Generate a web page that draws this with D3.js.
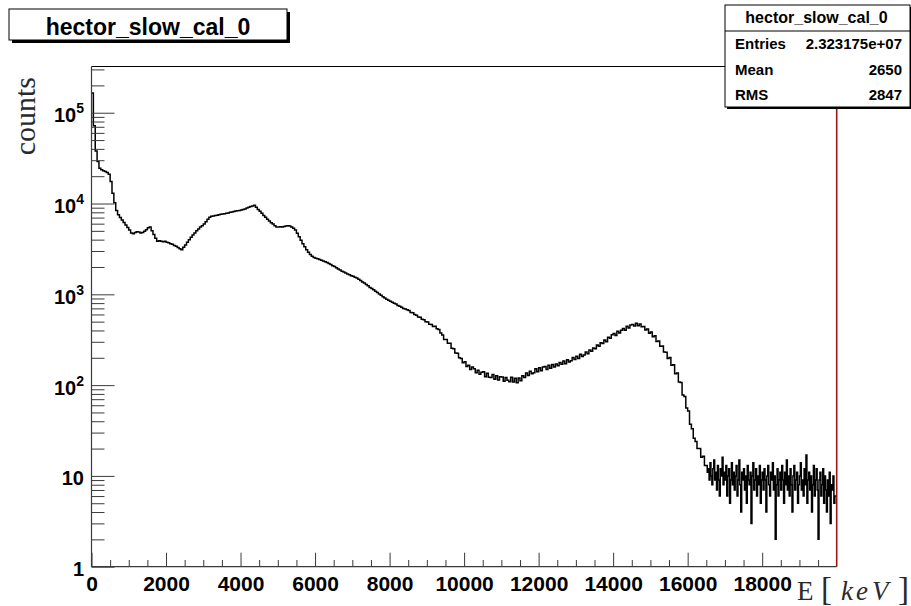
<!DOCTYPE html>
<html>
<head>
<meta charset="utf-8">
<script src="https://cdn.jsdelivr.net/npm/d3@7"></script>
<style>
  html, body { margin: 0; padding: 0; background: #fff; }
  svg { display: block; }
</style>
</head>
<body>
<svg id="chart" width="911" height="606"></svg>
<script>
// ---- data ----------------------------------------------------------------
const histName = "hector_slow_cal_0";
const eRange = [0, 20000];        // keV
const countRange = [1, 3.23e5];

// main spectrum: 50 keV bins from 0 to 16500 keV (10 bins per row = 500 keV)
const binWidth = 50;
const counts = [
  165000, 72000, 38000, 29000, 24500, 23500, 23000, 22500, 22000, 21000,
  17500, 13000, 10200, 8400, 7500, 7000, 6600, 6200, 5800, 5450,
  5100, 4750, 4650, 4800, 4900, 4850, 4750, 4800, 4950, 5150,
  5400, 5500, 5000, 4550, 4150, 3850, 3900, 3850, 3800, 3850,
  3750, 3700, 3600, 3550, 3450, 3380, 3280, 3180, 3100, 3300,
  3500, 3750, 3980, 4250, 4500, 4750, 5000, 5250, 5500, 5700,
  5950, 6300, 6700, 7050, 7250, 7300, 7400, 7450, 7500, 7600,
  7650, 7700, 7800, 7850, 8000, 8050, 8150, 8250, 8300, 8400,
  8500, 8600, 8700, 8900, 9100, 9250, 9400, 9550, 9100, 8600,
  8200, 7800, 7400, 7050, 6700, 6400, 6150, 5950, 5700, 5500,
  5500, 5550, 5500, 5600, 5650, 5700, 5650, 5500, 5350, 5100,
  4700, 4300, 3950, 3600, 3350, 3100, 2900, 2750, 2620, 2550,
  2500, 2460, 2420, 2380, 2330, 2280, 2240, 2180, 2130, 2060,
  2020, 1960, 1900, 1850, 1800, 1760, 1720, 1670, 1640, 1600,
  1580, 1540, 1510, 1470, 1420, 1370, 1330, 1280, 1240, 1190,
  1160, 1120, 1080, 1050, 1010, 975, 940, 910, 885, 860,
  840, 820, 795, 780, 755, 740, 720, 700, 690, 675,
  665, 632, 626, 598, 590, 562, 560, 532, 526, 498,
  496, 468, 466, 443, 446, 418, 410, 374, 356, 318,
  318, 289, 290, 254, 252, 226, 224, 200, 197, 176,
  181, 160, 166, 149, 158, 151, 137, 146, 132, 139,
  140, 124, 135, 122, 121, 131, 116, 127, 114, 124,
  123, 110, 121, 113, 109, 122, 108, 119, 106, 120,
  112, 127, 121, 136, 128, 142, 133, 137, 151, 140,
  155, 144, 158, 160, 149, 166, 153, 169, 158, 171,
  163, 177, 170, 184, 172, 190, 180, 186, 201, 191,
  208, 197, 219, 207, 214, 232, 222, 244, 236, 257,
  252, 276, 268, 293, 287, 313, 301, 337, 329, 358,
  371, 352, 392, 375, 401, 419, 402, 446, 425, 458,
  466, 447, 481, 452, 470, 438, 442, 405, 414, 372,
  384, 340, 350, 303, 306, 268, 270, 231, 230, 197,
  202, 166, 168, 133, 136, 108, 107, 78, 75, 56,
  52, 37, 33, 26, 24, 20, 20, 16, 16.5, 13
];

// high-energy tail: 25 keV bins from 16500 to 20000 keV (10 bins per row = 250 keV)
const tailStart = 16500;
const tailBinWidth = 25;
const tailCounts = [
  13, 11, 12, 9, 14, 10, 8, 12, 15, 9,
  11, 7, 13, 9, 6, 12, 10, 16, 8, 11,
  9, 13, 6, 10, 12, 5, 9, 14, 8, 11,
  7, 10, 13, 6, 9, 15, 8, 4, 11, 9,
  12, 7, 10, 5, 13, 9, 8, 11, 3, 10,
  14, 7, 9, 12, 6, 10, 8, 13, 5, 9,
  11, 7, 12, 9, 4, 10, 13, 8, 6, 11,
  9, 14, 7, 10, 2, 8, 12, 6, 9, 11,
  7, 13, 9, 5, 11, 8, 15, 7, 10, 6,
  12, 8, 4, 10, 13, 7, 9, 11, 5, 8,
  10, 14, 7, 9, 6, 12, 8, 17, 5, 9,
  11, 7, 10, 4, 8, 13, 6, 9, 12, 7,
  2, 9, 11, 6, 8, 12, 5, 10, 7, 4,
  9, 6, 11, 3, 8, 7, 10, 5, 6, 6
];

const xTickValues = [0, 2000, 4000, 6000, 8000, 10000, 12000, 14000, 16000, 18000];
const xTickLabels = ["0", "2000", "4000", "6000", "8000", "10000", "12000", "14000", "16000", "18000"];
const yTickValues = [1, 10, 100, 1000, 10000, 100000];
const yTickLabels = [["1", ""], ["10", ""], ["10", "2"], ["10", "3"], ["10", "4"], ["10", "5"]];

const statLabels = ["Entries", "Mean", "RMS"];
const statValues = ["2.323175e+07", "2650", "2847"];

// ---- layout --------------------------------------------------------------
const sans = "'Liberation Sans', Arial, Helvetica, sans-serif";
const serif = "'Liberation Serif', 'Times New Roman', Times, serif";
const frame = { left: 91.5, right: 836.7, top: 66.5, bottom: 566.7 };
const axisColor = "#3a3a3a";

const svg = d3.select("#chart");

const x = d3.scaleLinear().domain(eRange).range([frame.left, frame.right]);
const y = d3.scaleLog().domain(countRange).range([frame.bottom, frame.top]);

svg.append("defs").append("clipPath").attr("id", "plot-clip")
  .append("rect")
  .attr("x", frame.left).attr("y", frame.top)
  .attr("width", frame.right - frame.left)
  .attr("height", frame.bottom - frame.top);

// ---- histogram (step outline) --------------------------------------------
const bins = counts.map((c, i) => ({ lo: eRange[0] + i * binWidth, hi: eRange[0] + (i + 1) * binWidth, c }))
  .concat(tailCounts.map((c, j) => ({ lo: tailStart + j * tailBinWidth, hi: tailStart + (j + 1) * tailBinWidth, c })));
const steps = [];
bins.forEach(b => { steps.push([b.lo, b.c], [b.hi, b.c]); });

const stepLine = d3.line()
  .x(d => x(d[0]))
  .y(d => y(Math.max(d[1], countRange[0])));

svg.append("path")
  .attr("d", stepLine(steps))
  .attr("fill", "none")
  .attr("stroke", "#000")
  .attr("stroke-width", 1.5)
  .attr("stroke-linejoin", "miter")
  .attr("clip-path", "url(#plot-clip)");

// ---- frame ---------------------------------------------------------------
svg.append("line")
  .attr("x1", frame.left).attr("x2", frame.right)
  .attr("y1", frame.top).attr("y2", frame.top)
  .attr("stroke", "#000").attr("stroke-width", 1);
svg.append("line")
  .attr("x1", frame.right).attr("x2", frame.right)
  .attr("y1", frame.top).attr("y2", frame.bottom)
  .attr("stroke", "#a01414").attr("stroke-width", 1.6);

// ---- x axis ----------------------------------------------------------------
const xMinor = d3.range(eRange[0], eRange[1], 500).filter(v => v % 2000 !== 0);
const xAxisMinor = d3.axisBottom(x).tickValues(xMinor).tickSize(-6.7).tickFormat("");
const xAxis = d3.axisBottom(x).tickValues(xTickValues).tickSize(-14).tickPadding(9)
  .tickFormat((d, i) => xTickLabels[i]);

const gxMinor = svg.append("g").attr("transform", `translate(0,${frame.bottom})`).call(xAxisMinor);
const gx = svg.append("g").attr("transform", `translate(0,${frame.bottom})`).call(xAxis);
[gx, gxMinor].forEach(g => {
  g.select(".domain").remove();
  g.selectAll(".tick line").attr("stroke", axisColor).attr("stroke-width", 1);
});
gx.selectAll(".tick text")
  .attr("fill", "#000")
  .style("font-family", sans)
  .style("font-weight", "bold")
  .style("font-size", "21px");

svg.append("line")
  .attr("x1", frame.left).attr("x2", frame.right)
  .attr("y1", frame.bottom).attr("y2", frame.bottom)
  .attr("stroke", axisColor).attr("stroke-width", 1.2);

// ---- y axis ----------------------------------------------------------------
const yMinor = [];
for (let d = 0; d <= 5; d++) {
  for (let m = 2; m <= 9; m++) {
    const v = m * Math.pow(10, d);
    if (v <= countRange[1]) yMinor.push(v);
  }
}
const yAxisMinor = d3.axisLeft(y).tickValues(yMinor).tickSize(-13).tickFormat("");
const yAxis = d3.axisLeft(y).tickValues(yTickValues).tickSize(-23).tickFormat("");

const gyMinor = svg.append("g").attr("transform", `translate(${frame.left},0)`).call(yAxisMinor);
const gy = svg.append("g").attr("transform", `translate(${frame.left},0)`).call(yAxis);
[gy, gyMinor].forEach(g => {
  g.select(".domain").remove();
  g.selectAll(".tick line").attr("stroke", axisColor).attr("stroke-width", 1);
});
gy.selectAll(".tick text").remove();
gy.selectAll(".tick").each(function (d, i) {
  const lab = yTickLabels[i];
  const t = d3.select(this).append("text")
    .attr("x", -7.5)
    .attr("y", 9)
    .attr("text-anchor", "end")
    .attr("fill", "#000")
    .style("font-family", sans)
    .style("font-weight", "bold")
    .style("font-size", "20px");
  t.append("tspan").text(lab[0]);
  if (lab[1]) {
    t.append("tspan").attr("dy", -9).style("font-size", "14px").text(lab[1]);
  }
});

svg.append("line")
  .attr("x1", frame.left).attr("x2", frame.left)
  .attr("y1", frame.top).attr("y2", frame.bottom)
  .attr("stroke", axisColor).attr("stroke-width", 1.2);

// ---- axis titles -----------------------------------------------------------
svg.append("text")
  .attr("transform", "translate(35,77) rotate(-90)")
  .attr("text-anchor", "end")
  .attr("fill", "#2a2a2a")
  .style("font-family", serif)
  .style("font-size", "30px")
  .text("counts");

const xTitle = svg.append("text")
  .attr("y", 600)
  .attr("fill", "#2a2a2a")
  .style("font-family", serif)
  .style("font-size", "27px");
xTitle.append("tspan").attr("x", 797).text("E");
xTitle.append("tspan").attr("x", 821).style("font-size", "33px").text("[");
xTitle.append("tspan").attr("x", 841).style("font-style", "italic").text("k");
xTitle.append("tspan").attr("x", 856).style("font-style", "italic").text("e");
xTitle.append("tspan").attr("x", 872).style("font-style", "italic").text("V");
xTitle.append("tspan").attr("x", 898).style("font-size", "33px").text("]");

// ---- statistics box --------------------------------------------------------
const sb = { x: 725, y: 5, w: 185, h: 102, header: 26 };
const gs = svg.append("g");
gs.append("rect")
  .attr("x", sb.x + 2).attr("y", sb.y + 2)
  .attr("width", sb.w).attr("height", sb.h)
  .attr("fill", "#000");
gs.append("rect")
  .attr("x", sb.x).attr("y", sb.y)
  .attr("width", sb.w).attr("height", sb.h)
  .attr("fill", "#fff").attr("stroke", "#000").attr("stroke-width", 1);
gs.append("line")
  .attr("x1", sb.x).attr("x2", sb.x + sb.w)
  .attr("y1", sb.y + sb.header).attr("y2", sb.y + sb.header)
  .attr("stroke", "#000").attr("stroke-width", 1);
gs.append("text")
  .attr("x", sb.x + sb.w / 2 - 1).attr("y", sb.y + 18)
  .attr("text-anchor", "middle")
  .style("font-family", sans).style("font-weight", "bold").style("font-size", "16px")
  .text(histName);
const rowH = (sb.h - sb.header) / statLabels.length;
statLabels.forEach((lab, i) => {
  const by = sb.y + sb.header + rowH * (i + 0.5) + 5.5;
  gs.append("text")
    .attr("x", sb.x + 10).attr("y", by)
    .style("font-family", sans).style("font-weight", "bold").style("font-size", "15px")
    .text(lab);
  gs.append("text")
    .attr("x", sb.x + sb.w - 8).attr("y", by)
    .attr("text-anchor", "end")
    .style("font-family", sans).style("font-weight", "bold").style("font-size", "15px")
    .text(statValues[i]);
});

// ---- title box -------------------------------------------------------------
const tb = { x: 9, y: 9, w: 278, h: 31 };
svg.append("rect")
  .attr("x", tb.x + 3).attr("y", tb.y + 3)
  .attr("width", tb.w).attr("height", tb.h)
  .attr("fill", "#000");
svg.append("rect")
  .attr("x", tb.x).attr("y", tb.y)
  .attr("width", tb.w).attr("height", tb.h)
  .attr("fill", "#fff").attr("stroke", "#000").attr("stroke-width", 1);
svg.append("text")
  .attr("x", tb.x + tb.w / 2).attr("y", tb.y + 26)
  .attr("text-anchor", "middle")
  .style("font-family", sans).style("font-weight", "bold").style("font-size", "23px")
  .text(histName);
</script>
</body>
</html>
